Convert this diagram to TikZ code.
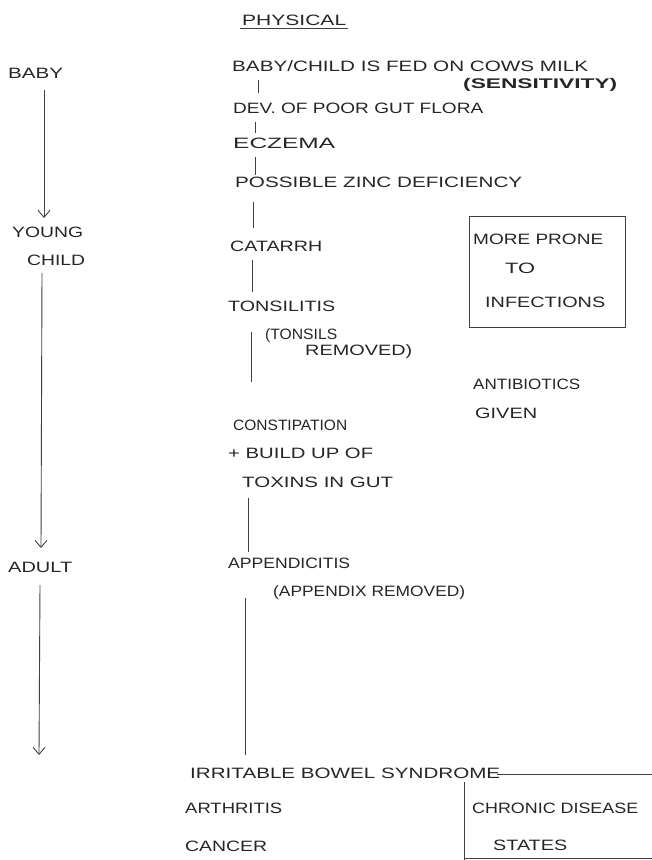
\documentclass[tikz,border=0pt]{standalone}
\usepackage{fontspec}
\setmainfont{Liberation Sans}
\usetikzlibrary{arrows.meta}
\newcommand{\hw}[2]{\resizebox{#1pt}{\height}{#2}}
\begin{document}
\begin{tikzpicture}[x=1pt,y=-1pt,
  txt/.style={anchor=west,inner sep=0pt,font=\fontsize{15}{18}\selectfont,text=black!85},
  ln/.style={draw=black!75,line width=0.9pt},
  arr/.style={ln,-{Straight Barb[length=7pt,width=12pt]}}]
\fill[white] (0,0) rectangle (652,860);
\useasboundingbox (0,0) rectangle (652,860);

% title
\node[txt] (phys) at (242,20) {\hw{104}{PHYSICAL}};
\draw[ln] ([xshift=-2pt,yshift=-3pt]phys.south west) -- ([xshift=2pt,yshift=-3pt]phys.south east);

% left timeline
\node[txt] (baby) at (8,73) {\hw{55}{BABY}};
\node[txt] (young) at (12,232) {\hw{71}{YOUNG}};
\node[txt] (child) at (27,260) {\hw{58}{CHILD}};
\node[txt] (adult) at (8,567) {\hw{64}{ADULT}};
\coordinate (la1) at (44,90);  \coordinate (la2) at (44,218);
\coordinate (lb1) at (42,273); \coordinate (lb2) at (41,548);
\coordinate (lc1) at (40,585); \coordinate (lc2) at (39,755);
\draw[arr] (la1) -- (la2);
\draw[arr] (lb1) -- (lb2);
\draw[arr] (lc1) -- (lc2);

% main column
\node[txt] (fed) at (232,66) {\hw{356}{BABY/CHILD IS FED ON COWS MILK}};
\node[txt,font=\fontsize{14}{17}\bfseries] (sens) at (463,85) {\hw{154}{(SENSITIVITY)}};
\node[txt] (flora) at (233,108) {\hw{250}{DEV. OF POOR GUT FLORA}};
\node[txt] (ecz) at (233,143) {\hw{102}{ECZEMA}};
\node[txt] (zinc) at (235,182) {\hw{287}{POSSIBLE ZINC DEFICIENCY}};
\node[txt] (cat) at (230,246) {\hw{92}{CATARRH}};
\node[txt] (tons) at (228,306) {\hw{107}{TONSILITIS}};
\node[txt] (tr1) at (265,336) {\hw{72}{(TONSILS}};
\node[txt] (tr2) at (305,352) {\hw{107}{REMOVED)}};
\node[txt] (con1) at (233,425) {\hw{114}{CONSTIPATION}};
\node[txt] (con2) at (228,453) {\hw{145}{+ BUILD UP OF}};
\node[txt] (con3) at (242,482) {\hw{151}{TOXINS IN GUT}};
\node[txt] (app) at (228,563) {\hw{122}{APPENDICITIS}};
\node[txt] (appr) at (273,593) {\hw{192}{(APPENDIX REMOVED)}};
\node[txt] (ibs) at (190,773) {\hw{310}{IRRITABLE BOWEL SYNDROME}};
\node[txt] (arth) at (185,808) {\hw{97}{ARTHRITIS}};
\node[txt] (canc) at (185,846) {\hw{82}{CANCER}};

% connectors of main column
\coordinate (m1a) at (258,80);  \coordinate (m1b) at (258,93);
\coordinate (m2a) at (255,122); \coordinate (m2b) at (255,133);
\coordinate (m3a) at (255,157); \coordinate (m3b) at (255,175);
\coordinate (m4a) at (253,202); \coordinate (m4b) at (253,228);
\coordinate (m5a) at (252,260); \coordinate (m5b) at (252,292);
\coordinate (m6a) at (251,332); \coordinate (m6b) at (251,382);
\coordinate (m7a) at (248,498); \coordinate (m7b) at (248,552);
\coordinate (m8a) at (245,598); \coordinate (m8b) at (245,755);
\foreach \i in {1,...,8} {\draw[ln] (m\i a) -- (m\i b);}

% infections box
\node[ln,draw,minimum width=156pt,minimum height=111pt,inner sep=0pt] (box) at (547,271.5) {};
\node[txt] (more1) at (473,239) {\hw{130}{MORE PRONE}};
\node[txt] (more2) at (505,268) {\hw{30}{TO}};
\node[txt] (more3) at (485,302) {\hw{120}{INFECTIONS}};

\node[txt] (anti1) at (473,384) {\hw{107}{ANTIBIOTICS}};
\node[txt] (anti2) at (475,413) {\hw{62}{GIVEN}};

% chronic disease box (partial)
\node[txt] (chr1) at (472,808) {\hw{166}{CHRONIC DISEASE}};
\node[txt] (chr2) at (493,845) {\hw{74}{STATES}};
\coordinate (ca) at (497,774); \coordinate (cb) at (652,774);
\coordinate (cc) at (464,782); \coordinate (cd) at (464,860);
\coordinate (ce) at (464,858); \coordinate (cf) at (652,858);
\draw[ln] (ca) -- (cb);
\draw[ln] (cc) -- (cd);
\draw[ln] (ce) -- (cf);
\end{tikzpicture}
\end{document}
